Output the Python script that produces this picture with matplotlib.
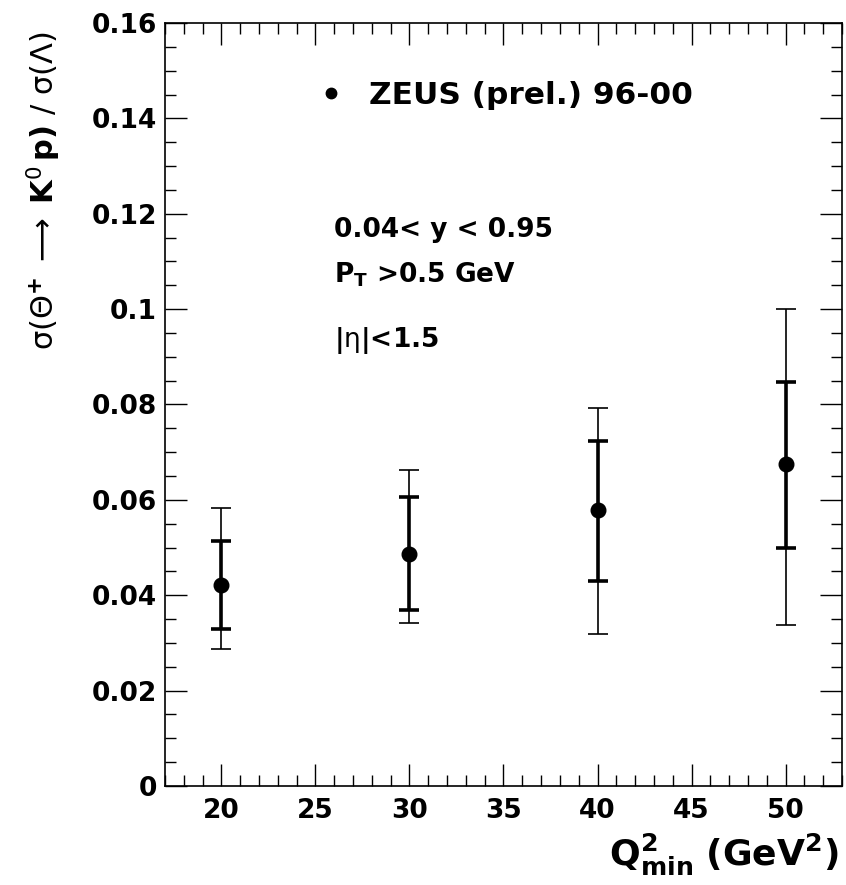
import numpy as np
import matplotlib
matplotlib.use("Agg")
import matplotlib.pyplot as plt
from matplotlib.lines import Line2D
from matplotlib.ticker import MultipleLocator, FuncFormatter

plt.rcParams['font.family'] = ['DejaVu Sans']
plt.rcParams['font.weight'] = 'bold'
plt.rcParams['mathtext.fontset'] = 'custom'
plt.rcParams['mathtext.rm'] = 'DejaVu Sans:weight=normal'
plt.rcParams['mathtext.it'] = 'DejaVu Sans:italic:weight=normal'
plt.rcParams['mathtext.bf'] = 'DejaVu Sans:weight=bold'

# данные: Q2_min и отношение сечений
q2min = [20, 30, 40, 50]
ratio = [0.0422, 0.0487, 0.0578, 0.0675]
stat_hi = [0.0514, 0.0605, 0.0724, 0.0848]
stat_lo = [0.0330, 0.0368, 0.0430, 0.0498]
tot_hi = [0.0582, 0.0663, 0.0793, 0.1000]
tot_lo = [0.0288, 0.0341, 0.0319, 0.0338]

x = np.array(q2min, dtype=float)
y = np.array(ratio)
stat_err = [y - np.array(stat_lo), np.array(stat_hi) - y]
tot_err = [y - np.array(tot_lo), np.array(tot_hi) - y]

fig = plt.figure(figsize=(8.46, 8.85), dpi=100)
ax = fig.add_axes([0.195, 0.1119, 0.8003, 0.8621])

# полная ошибка (тонкая) и статистическая (толстая)
ax.errorbar(x, y, yerr=tot_err, fmt='none', ecolor='black', elinewidth=1.2,
            capsize=7, capthick=1.2)
ax.errorbar(x, y, yerr=stat_err, fmt='o', color='black', ms=10.5,
            ecolor='black', elinewidth=2.6, capsize=7, capthick=2.6)

ax.set_xlim(17, 53)
ax.set_ylim(0, 0.16)

ax.xaxis.set_major_locator(MultipleLocator(5))
ax.xaxis.set_minor_locator(MultipleLocator(1))
ax.yaxis.set_major_locator(MultipleLocator(0.02))
ax.yaxis.set_minor_locator(MultipleLocator(0.005))
ax.yaxis.set_major_formatter(FuncFormatter(lambda v, p: '%g' % round(v, 4)))

ax.tick_params(which='both', direction='in', top=True, right=True, width=1.0)
ax.tick_params(which='major', length=15.5)
ax.tick_params(which='minor', length=8)
ax.tick_params(axis='y', labelsize=19, pad=6)
ax.tick_params(axis='x', labelsize=19, pad=9)
for s in ax.spines.values():
    s.set_linewidth(1.2)

ax.set_ylabel(r'$\mathrm{\sigma(\Theta}^{\mathbf{+}}\;\mathrm{\longrightarrow}\;'
              r'\mathbf{K}^{0}\,\mathbf{p)}\ \mathrm{/}\ \mathrm{\sigma(\Lambda)}$',
              fontsize=22, loc='top')
ax.yaxis.set_label_coords(-0.151, 0.99)
ax.set_xlabel(r'$\mathbf{Q^{2}_{min}\ (GeV^{2})}$', fontsize=26, loc='right')
ax.xaxis.set_label_coords(0.995, -0.060)

# легенда
h = Line2D([0], [0], marker='o', color='black', ls='none', ms=7.5)
ax.legend(handles=[h], labels=['ZEUS (prel.) 96-00'], loc='center left',
          bbox_to_anchor=(0.2216, 0.9056), frameon=False, fontsize=22.5,
          handlelength=1.0, handletextpad=0.72, borderpad=0, borderaxespad=0)

# условия отбора
ax.text(26.0, 0.1151, '0.04< y < 0.95', fontsize=19, va='baseline')
ax.text(26.0, 0.1055, r'P$_\mathbf{T}$ >0.5 GeV', fontsize=19, va='baseline')
ax.text(26.0, 0.0921, r'|$\mathrm{\eta}$|<1.5', fontsize=19, va='baseline')

fig.savefig('out.png', dpi=100)
